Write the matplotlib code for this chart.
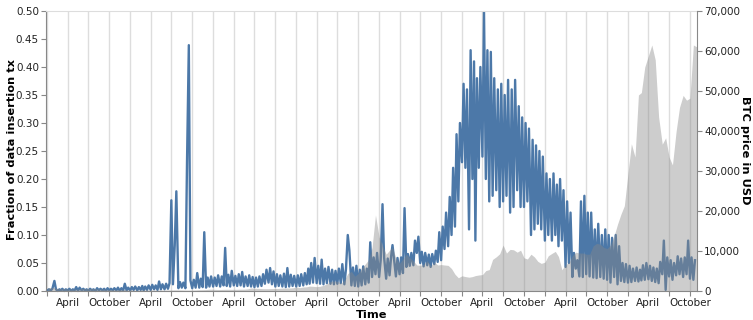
import matplotlib
matplotlib.use("Agg")
import matplotlib.pyplot as plt
from matplotlib.ticker import FixedLocator, FuncFormatter
import datetime as dt

plt.rcParams['font.family'] = ['DejaVu Sans']

# share of data insertion tx, read twice a month (in percent).
# "lo" sits on the 1st/16th, "hi" one week later -> gives the noisy band look
frac_lo = [
    # 2014
    0.1, 0.1, 1.8, 0.0, 0.1, 0.0, 0.1, 0.0, 0.1, 0.0, 0.1, 0.1,
    0.0, 0.1, 0.0, 0.1, 0.1, 0.0, 0.1, 0.1, 0.1, 0.0, 0.1, 0.1,
    # 2015
    0.1, 0.2, 0.1, 0.2, 0.1, 0.2, 0.2, 0.3, 0.2, 0.3, 0.3, 0.4,
    16.2, 8.2, 0.5, 0.6, 0.5, 43.9, 0.5, 0.6, 0.6, 0.7, 0.6, 0.8,
    # 2016
    0.8, 0.9, 0.8, 1.0, 0.9, 0.8, 1.0, 0.9, 1.0, 0.8, 0.9, 0.8,
    0.7, 0.8, 0.9, 1.3, 1.5, 1.2, 0.8, 0.9, 0.8, 0.7, 0.8, 0.9,
    # 2017
    0.8, 0.9, 1.0, 1.2, 1.3, 1.5, 1.4, 1.3, 1.2, 1.4, 1.3, 1.2,
    1.3, 1.4, 1.2, 10.0, 1.0, 0.9, 0.8, 1.0, 1.2, 1.5, 2.5, 3.0,
    # 2018
    2.5, 15.5, 2.2, 2.8, 8.2, 2.6, 3.0, 3.2, 4.3, 4.5, 4.6, 6.8,
    5.0, 4.4, 4.6, 4.3, 4.8, 5.2, 5.5, 7.5, 8.0, 10.0, 11.5, 16.0,
    # 2019
    23, 22, 11, 20, 9, 22, 24, 20, 16, 17, 18, 15,
    16, 17, 14, 15, 18, 15, 15, 16, 10, 11, 12, 11,
    # 2020
    9, 10, 9, 10, 8, 9, 4.3, 5.0, 2.5, 4.0, 2.6, 2.5,
    3.0, 2.6, 2.4, 2.3, 2.5, 2.2, 2.0, 1.5, 2.5, 1.2, 1.8, 1.6,
    # 2021 (to mid October)
    1.5, 1.6, 1.8, 1.7, 1.9, 2.0, 2.1, 1.8, 1.6, 1.4, 3.0, 0.2,
    2.6, 2.0, 2.8, 3.0, 2.5, 3.0, 2.2, 2.0,
]
frac_hi = [
    # 2014
    0.3, 0.4, 0.3, 0.3, 0.4, 0.3, 0.4, 0.3, 0.7, 0.6, 0.4, 0.3,
    0.4, 0.3, 0.5, 0.4, 0.4, 0.5, 0.4, 0.5, 0.6, 0.5, 1.3, 0.6,
    # 2015
    0.7, 0.8, 0.7, 0.9, 0.8, 1.0, 1.1, 1.0, 1.7, 1.2, 1.3, 1.4,
    1.2, 17.8, 1.6, 1.5, 22.9, 1.9, 2.0, 3.2, 2.2, 10.5, 2.4, 2.6,
    # 2016
    2.4, 2.8, 2.6, 7.7, 2.9, 3.6, 2.7, 3.0, 3.4, 2.6, 2.8, 2.5,
    2.4, 2.6, 3.0, 3.8, 4.1, 3.5, 3.0, 2.8, 3.1, 4.1, 2.9, 2.7,
    # 2017
    2.8, 3.0, 3.2, 4.0, 5.0, 5.9, 4.5, 5.6, 4.0, 4.3, 3.8, 3.6,
    4.0, 4.8, 3.9, 7.3, 4.2, 4.5, 3.8, 4.4, 4.0, 8.7, 6.0, 6.8,
    # 2018
    5.5, 6.0, 5.8, 6.2, 5.6, 5.9, 6.0, 14.8, 6.6, 6.8, 9.0, 9.7,
    7.0, 6.8, 6.5, 6.6, 7.2, 10.5, 11.5, 14.0, 16.8, 22.0, 28.0, 30.0,
    # 2019
    37, 36, 43, 41, 38, 40, 49.8, 43, 42.7, 38, 36, 37,
    35, 37.7, 36, 37.7, 33, 31, 30, 29, 27, 26, 25, 24,
    # 2020
    21, 20, 21, 19, 20, 18, 16, 14, 6.8, 5.5, 16, 17,
    14, 14, 11, 12, 10, 11, 10, 9.5, 10, 8, 5, 4.8,
    # 2021
    4.5, 4.0, 4.2, 3.8, 4.6, 5.0, 4.5, 4.2, 4.0, 5.2, 9.0, 6.0,
    5.5, 5.0, 6.2, 5.8, 6.0, 9.0, 6.0, 5.5,
]

# BTC price in USD on the 1st and 16th of each month
btc_usd = [
    # 2014
    770, 850, 830, 640, 560, 630, 480, 520, 450, 450, 630, 600,
    640, 620, 590, 500, 480, 460, 380, 390, 330, 390, 380, 320,
    # 2015
    315, 210, 225, 235, 260, 285, 245, 225, 235, 235, 225, 250,
    260, 280, 280, 260, 230, 230, 237, 260, 320, 330, 360, 450,
    # 2016
    430, 385, 370, 405, 430, 415, 415, 430, 450, 455, 535, 760,
    675, 665, 600, 575, 575, 610, 615, 640, 730, 740, 755, 790,
    # 2017
    1000, 830, 990, 1050, 1220, 1170, 1080, 1180, 1420, 1800, 2400, 2500,
    2440, 1930, 2730, 4380, 4900, 3700, 4400, 5700, 6750, 7850, 10900, 19000,
    # 2018
    13500, 11300, 9200, 10200, 10900, 8200, 6900, 8000, 9200, 8300, 7500, 6500,
    6400, 6700, 7600, 6300, 7200, 6500, 6600, 6500, 6400, 5600, 4200, 3300,
    # 2019
    3800, 3600, 3450, 3600, 3850, 4000, 4100, 5100, 5350, 7900, 8550, 9300,
    11500, 9500, 10400, 10300, 9700, 10200, 8300, 8000, 9200, 8500, 7400, 6900,
    # 2020
    7200, 8800, 9400, 9900, 8600, 5300, 6600, 7100, 8800, 9700, 9500, 9500,
    9200, 9200, 11300, 11900, 11700, 10900, 10600, 11500, 13800, 16700, 19200, 21300,
    # 2021
    29400, 36800, 33500, 49000, 49600, 56000, 58800, 61500, 57800, 43500, 36700, 38300,
    33500, 31500, 39900, 45900, 48900, 47700, 48200, 61500,
]
btc_last = (dt.datetime(2021, 11, 1), 61000)

tick_months = {1: "", 4: "April", 7: "", 10: "October"}

# half-month dates
days = []
for y in range(2014, 2022):
    for m in range(1, 13):
        for d in (1, 16):
            days.append(dt.datetime(y, m, d))
days = days[:len(btc_usd)]

tx, ty = [], []
for day, lo, hi in zip(days, frac_lo, frac_hi):
    tx += [day, day + dt.timedelta(days=7)]
    ty += [lo / 100, hi / 100]

bx = days + [btc_last[0]]
by = btc_usd + [btc_last[1]]

ticks, tick_labels = [], []
for y in range(2014, 2022):
    for m in (1, 4, 7, 10):
        t = dt.datetime(y, m, 1)
        if t <= dt.datetime(2021, 10, 1):
            ticks.append(t)
            tick_labels.append(tick_months[m])

fig = plt.figure(figsize=(7.53, 3.2), dpi=100)
ax = fig.add_axes([46 / 753, 29 / 320, 651 / 753, 280 / 320])

ax.plot(tx, ty, color='#4c78a8', lw=1.7, zorder=2, clip_on=False)
ax.set_xlim(dt.datetime(2013, 12, 26), dt.datetime(2021, 11, 1))
ax.set_ylim(0, 0.5)
ax.set_yticks([i * 0.05 for i in range(11)])
ax.yaxis.set_major_formatter(FuncFormatter(lambda v, p: f"{v:.2f}"))
ax.xaxis.set_major_locator(FixedLocator([matplotlib.dates.date2num(t) for t in ticks]))
ax.set_xticklabels(tick_labels)
ax.set_axisbelow(True)
ax.grid(axis='x', color='#dddddd', lw=1)

ax2 = ax.twinx()
ax2.fill_between(bx, by, color='#888888', alpha=0.42, lw=0, zorder=3)
ax2.set_ylim(0, 70000)
ax2.set_yticks(range(0, 70001, 10000))
ax2.yaxis.set_major_formatter(FuncFormatter(lambda v, p: f"{int(v):,}"))

for a in (ax, ax2):
    a.tick_params(length=3.6, width=0.8, color='#888888', labelsize=7.5,
                  pad=1.5, labelcolor='#222222')
    for s in a.spines.values():
        s.set_visible(False)
ax.spines['left'].set_visible(True)
ax.spines['bottom'].set_visible(True)
ax.spines['top'].set_visible(True)
ax.spines['left'].set_color('#888888')
ax.spines['bottom'].set_color('#888888')
ax.spines['top'].set_color('#dddddd')
ax2.spines['right'].set_visible(True)
ax2.spines['right'].set_color('#888888')

fig.text(12 / 753, 1 - 150 / 320, "Fraction of data insertion tx", rotation=90,
         ha='center', va='center', fontsize=8.2, fontweight='bold')
fig.text(745 / 753, 1 - 150 / 320, "BTC price in USD", rotation=270,
         ha='center', va='center', fontsize=8.2, fontweight='bold')
fig.text(372 / 753, 1 - 315 / 320, "Time", ha='center', va='center',
         fontsize=8.2, fontweight='bold')

fig.savefig("out.png", dpi=100)
